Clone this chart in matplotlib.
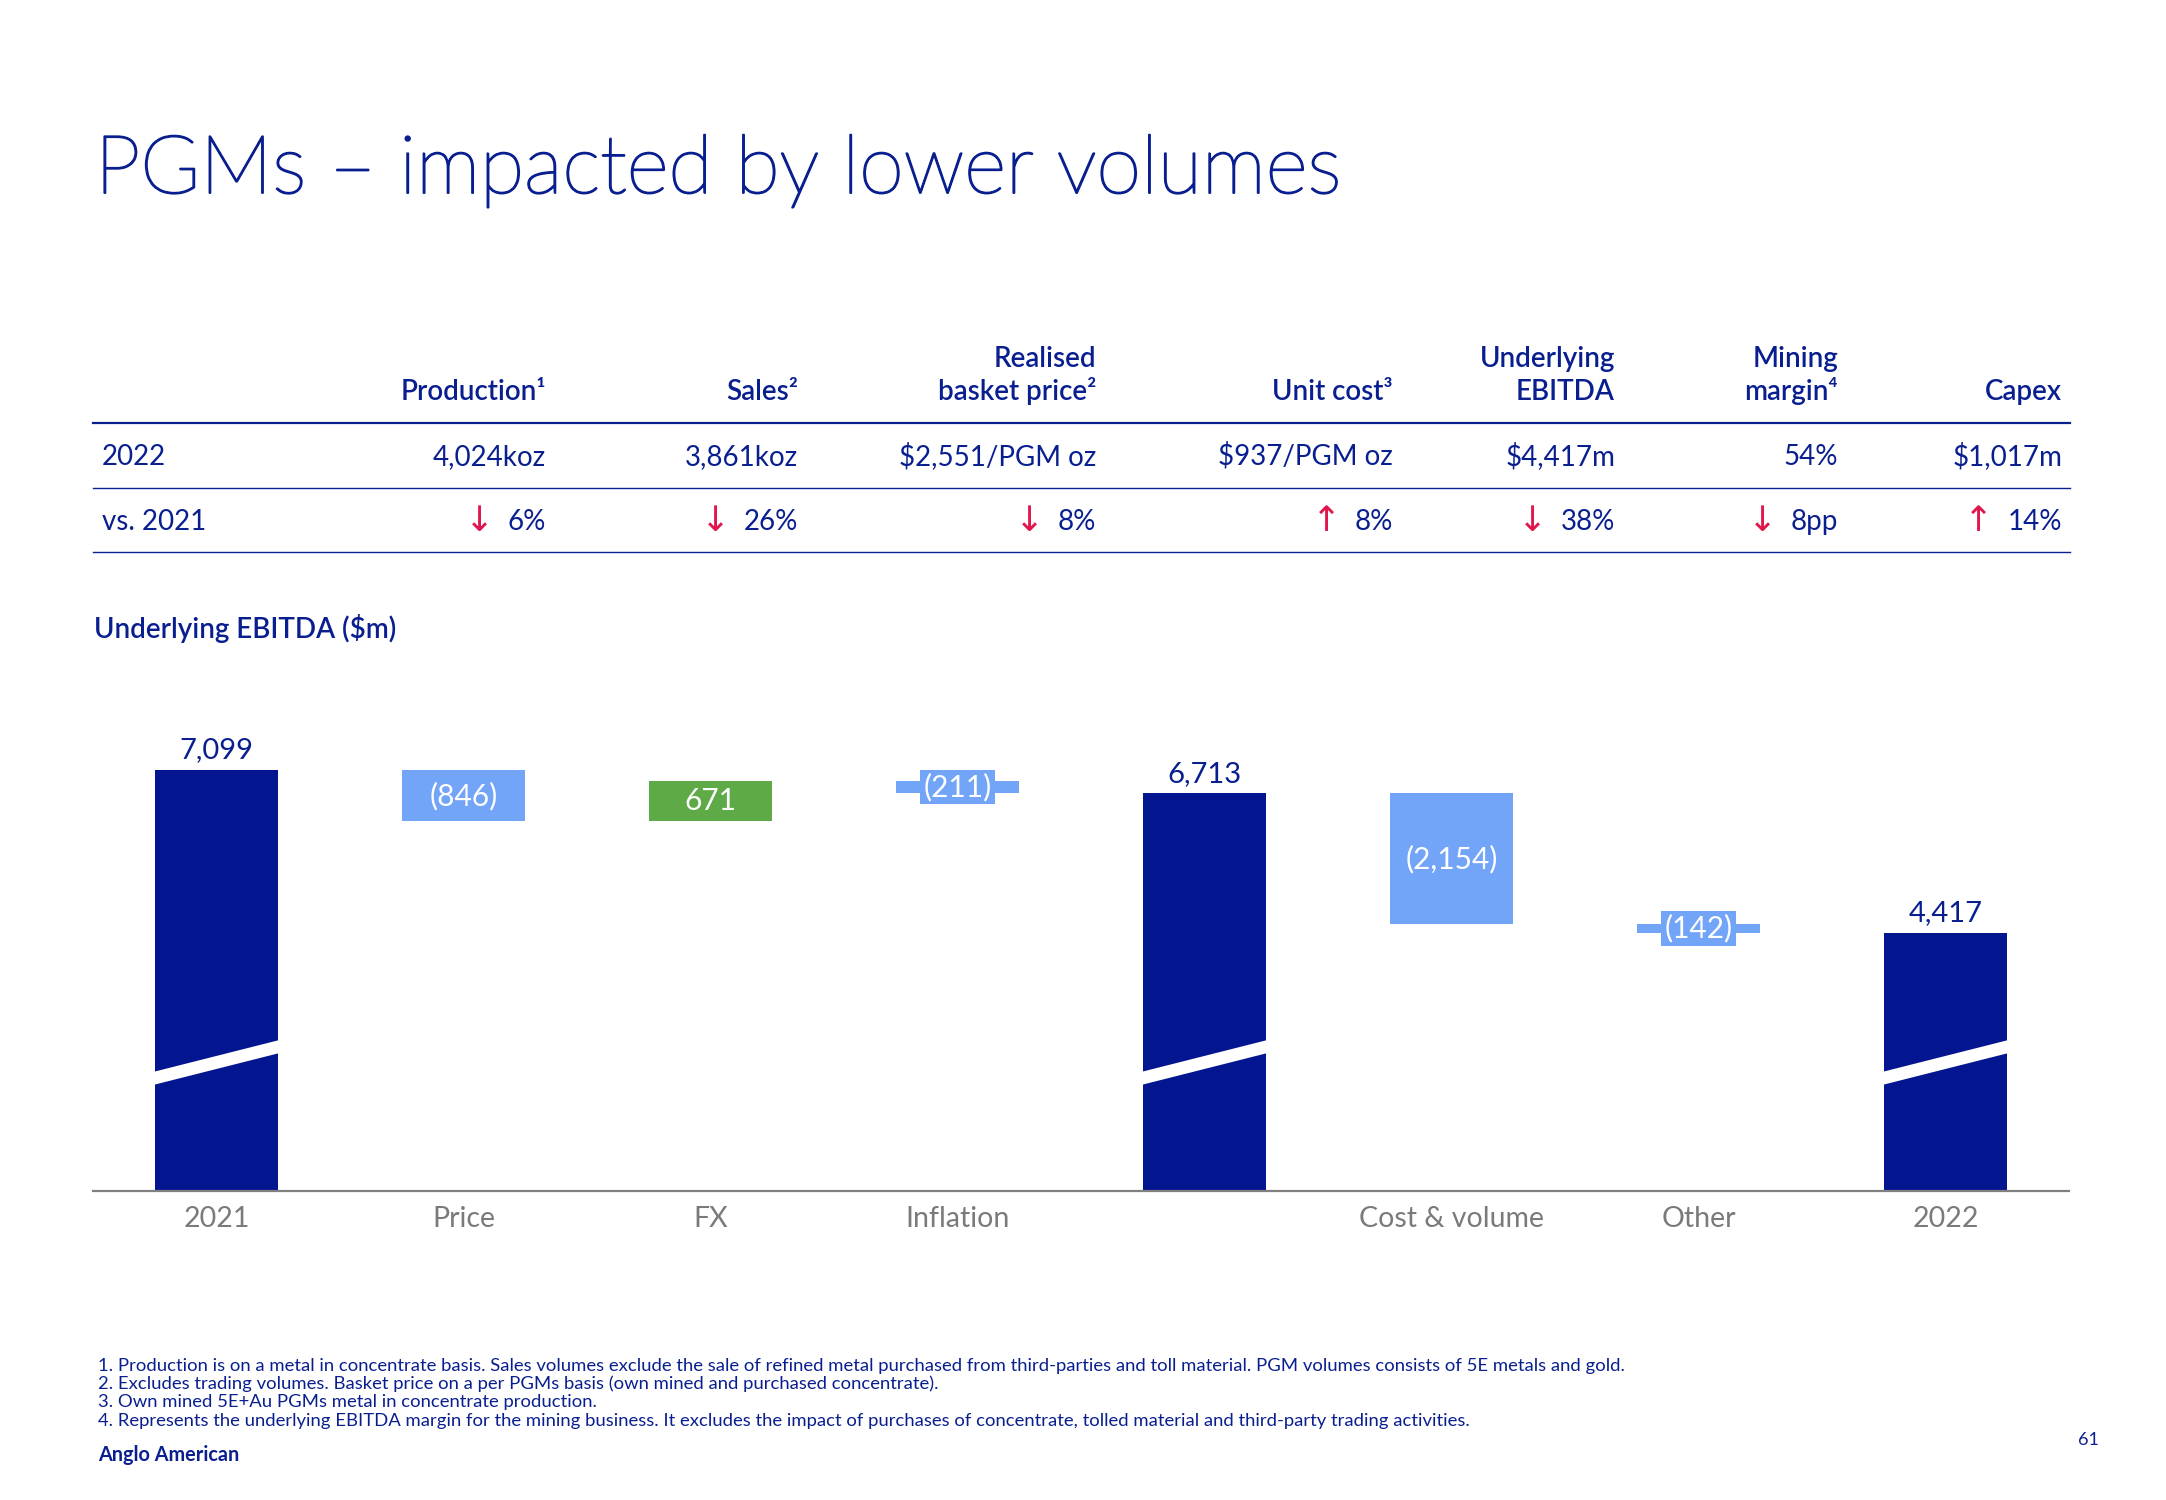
import matplotlib
matplotlib.use("Agg")
import matplotlib.pyplot as plt
import matplotlib.patheffects as pe

# ---- waterfall data, Underlying EBITDA ($m) ----
categories = ["2021", "Price", "FX", "Inflation", "", "Cost & volume", "Other", "2022"]
values = [7099, -846, 671, -211, 6713, -2154, -142, 4417]
is_total = [True, False, False, False, True, False, False, True]

# ---- table data ----
head_top = ["", "", "Realised", "", "Underlying", "Mining", ""]
head_bottom = ["Production¹", "Sales²", "basket price²", "Unit cost³", "EBITDA", "margin⁴", "Capex"]
row_2022 = ["4,024koz", "3,861koz", "$2,551/PGM oz", "$937/PGM oz", "$4,417m", "54%", "$1,017m"]
row_change = ["6%", "26%", "8%", "8%", "38%", "8pp", "14%"]
row_dir = ["down", "down", "down", "up", "down", "down", "up"]

footnotes = [
    "1. Production is on a metal in concentrate basis. Sales volumes exclude the sale of refined metal purchased "
    "from third-parties and toll material. PGM volumes consists of 5E metals and gold.",
    "2. Excludes trading volumes. Basket price on a per PGMs basis (own mined and purchased concentrate).",
    "3. Own mined 5E+Au PGMs metal in concentrate production.",
    "4. Represents the underlying EBITDA margin for the mining business. It excludes the impact of purchases "
    "of concentrate, tolled material and third-party trading activities.",
]

NAVY = "#0A1F8F"
BAR_NAVY = "#03168F"
LIGHT = "#72A4F7"
GREEN = "#5DAA46"
RED = "#E0174D"
GREY = "#7A7A7A"
FONT = ["Lato", "DejaVu Sans"]

W, H = 2166, 1500
fig = plt.figure(figsize=(W / 100, H / 100), dpi=100)
plt.rcParams["font.family"] = FONT


def fx(px):
    return px / W


def fy(py):
    return 1 - py / H


# title (light weight, thickened a little with a stroke)
fig.text(fx(95), fy(193), "PGMs – impacted by lower volumes", fontsize=58.3, color=NAVY,
         fontweight="light", va="baseline", ha="left",
         path_effects=[pe.withStroke(linewidth=1.4, foreground=NAVY)])

# ---- table ----
col_right = [546, 798, 1096, 1393, 1615, 1838, 2062]
for i, xr in enumerate(col_right):
    if head_top[i]:
        fig.text(fx(xr), fy(367), head_top[i], fontsize=20, color=NAVY, fontweight="semibold",
                 ha="right", va="baseline")
    fig.text(fx(xr), fy(400), head_bottom[i], fontsize=20, color=NAVY, fontweight="semibold",
             ha="right", va="baseline")
    fig.text(fx(xr), fy(465), row_2022[i], fontsize=20, color=NAVY, ha="right", va="baseline")

fig.text(fx(102), fy(465), "2022", fontsize=20, color=NAVY, ha="left", va="baseline")
fig.text(fx(102), fy(530), "vs. 2021", fontsize=20, color=NAVY, ha="left", va="baseline")

for y, lw in [(423, 1.6), (488, 1.0), (552, 1.0)]:
    fig.add_artist(plt.Line2D([fx(93), fx(2070)], [fy(y), fy(y)], color=NAVY, lw=lw))

change_texts = []
for i, xr in enumerate(col_right):
    t = fig.text(fx(xr), fy(530), row_change[i], fontsize=20, color=NAVY, ha="right", va="baseline")
    change_texts.append(t)

renderer = fig.canvas.get_renderer()
for i, t in enumerate(change_texts):
    bb = t.get_window_extent(renderer)
    arrow = "↓" if row_dir[i] == "down" else "↑"
    fig.text(fx(bb.x0 - 14), fy(531), arrow, fontsize=25, color=RED, ha="right", va="baseline",
             family=["DejaVu Sans"])

# ---- waterfall ----
fig.text(fx(94), fy(638), "Underlying EBITDA ($m)", fontsize=20, color=NAVY,
         fontweight="semibold", ha="left", va="baseline")

ax = fig.add_axes([fx(93), fy(1191), fx(2069) - fx(93), 0.3171])
bottoms, heights, colors = [], [], []
running = 0
for v, tot in zip(values, is_total):
    if tot:
        bottoms.append(0)
        heights.append(v)
        colors.append(BAR_NAVY)
        running = v
    else:
        bottoms.append(min(running, running + v))
        heights.append(abs(v))
        colors.append(LIGHT if v < 0 else GREEN)
        running += v

x = list(range(len(values)))
bar_w = 0.5
ax.bar(x, heights, bottom=bottoms, width=bar_w, color=colors, linewidth=0, zorder=2)

# axis break band across total bars
break_lo, break_rise, break_gap = 2015, 535, 215
for xi, tot in zip(x, is_total):
    if tot:
        x0, x1 = xi - bar_w / 2 - 0.01, xi + bar_w / 2 + 0.01
        ax.fill([x0, x1, x1, x0],
                [break_lo - break_gap / 2, break_lo + break_rise - break_gap / 2,
                 break_lo + break_rise + break_gap / 2, break_lo + break_gap / 2],
                color="white", linewidth=0, zorder=3)

for xi, v, b, h, tot in zip(x, values, bottoms, heights, is_total):
    if tot:
        ax.annotate(f"{v:,}", (xi, b + h), xytext=(0, 8.5), textcoords="offset points",
                    ha="center", va="baseline", fontsize=21, color=NAVY)
    else:
        lab = f"{v:,}" if v > 0 else f"({-v:,})"
        box = None
        if abs(v) < 400:
            box = dict(boxstyle="square,pad=0.1", fc=LIGHT, ec="none")
        ax.text(xi, b + h / 2, lab, ha="center", va="center", fontsize=21.5, color="white",
                bbox=box, zorder=4)

ax.set_xlim(-0.5, len(values) - 0.5)
ax.set_ylim(165, 8000)
for s in ["top", "left", "right"]:
    ax.spines[s].set_visible(False)
ax.spines["bottom"].set_color("#808080")
ax.spines["bottom"].set_linewidth(1.6)
ax.spines["bottom"].set_zorder(5)
ax.set_yticks([])
ax.set_xticks(x)
ax.set_xticklabels(categories, fontsize=20.5, color=GREY)
ax.tick_params(axis="x", length=0, pad=10.5)

# ---- footnotes ----
for k, line in enumerate(footnotes):
    fig.text(fx(98), fy(1370.7 + 18.3 * k), line, fontsize=13.3, color=NAVY, ha="left", va="baseline")
fig.text(fx(98), fy(1461), "Anglo American", fontsize=14.3, color=NAVY, fontweight="bold",
         ha="left", va="baseline")
fig.text(fx(2088), fy(1440), "61", fontsize=13, color=NAVY, ha="center", va="center")

fig.savefig("out.png", dpi=100)
